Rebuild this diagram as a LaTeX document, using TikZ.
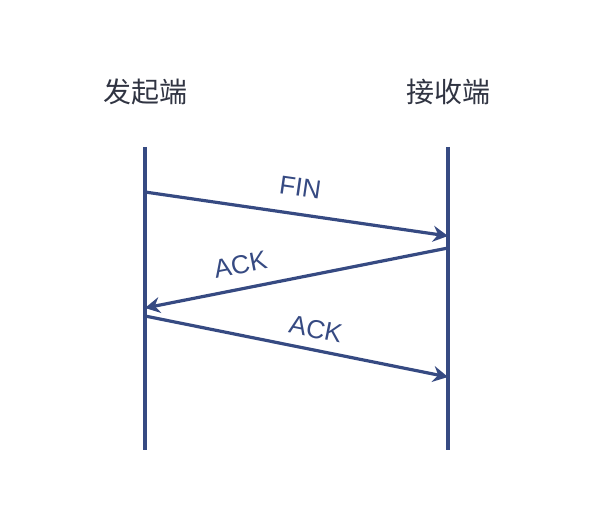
\documentclass[tikz,border=0pt]{standalone}
\usepackage{fontspec}
\setmainfont{Liberation Sans}
\newfontfamily\cjk{Noto Sans CJK SC}
\usepackage{xcolor}
\definecolor{msgblue}{RGB}{54,74,130}
\definecolor{headgray}{RGB}{48,52,66}
\usetikzlibrary{arrows.meta, positioning}

\begin{document}
\begin{tikzpicture}[x=1pt, y=-1pt,
  endname/.style={font=\cjk\fontsize{28}{32}\selectfont, text=headgray, inner sep=0pt},
  lifeline/.style={line width=3.2pt, msgblue},
  msg/.style={-{Stealth[length=15pt, width=16pt, inset=5pt]}, line width=3.2pt, msgblue},
  msglabel/.style={font=\fontsize{26}{30}\selectfont, text=msgblue, sloped, above, inner sep=0pt}
]
\useasboundingbox (0,0) rectangle (600,516);

% ends
\node[endname] (snd) at (145,92) {发起端};
\node[endname] (rcv) at (448,92) {接收端};
\coordinate (sndtop) at (145,147); \coordinate (sndbot) at (145,450);
\coordinate (rcvtop) at (448,147); \coordinate (rcvbot) at (448,450);
\draw[lifeline] (sndtop)--(sndbot);
\draw[lifeline] (rcvtop)--(rcvbot);

% messages
\coordinate (fin0) at (145,192); \coordinate (fin1) at (448,236);
\coordinate (ack0) at (448,248); \coordinate (ack1) at (145,308);
\coordinate (ackb0) at (145,316); \coordinate (ackb1) at (448,377);
\draw[msg] (fin0)--(fin1) node[msglabel, pos=0.5, yshift=16pt] (lfin) {FIN};
\draw[msg] (ack0)--(ack1) node[msglabel, pos=0.67, yshift=13pt] (lack) {ACK};
\draw[msg] (ackb0)--(ackb1) node[msglabel, pos=0.55, yshift=10pt] (lackb) {ACK};
\end{tikzpicture}
\end{document}
